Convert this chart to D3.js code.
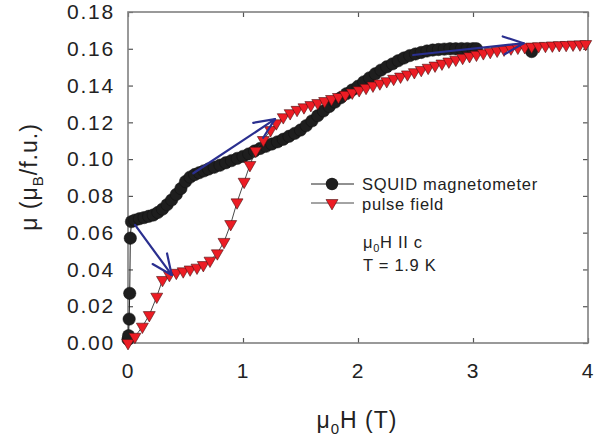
<!DOCTYPE html>
<html>
<head>
<meta charset="utf-8">
<script src="https://cdn.jsdelivr.net/npm/d3@7"></script>
<style>
  body { margin: 0; background: #fff; }
  svg { display: block; }
  text { font-family: "Liberation Sans", Arial, sans-serif; fill: #222; }
</style>
</head>
<body>
<div id="chart"></div>
<script>
// SQUID magnetometer data (field in T, moment in muB/f.u.)
var squidH = [0, 0.005, 0.01, 0.015, 0.02, 0.03, 0.06, 0.10, 0.14, 0.18, 0.22, 0.26, 0.30, 0.34, 0.38,
  0.42, 0.46, 0.50, 0.54, 0.58, 0.62, 0.66, 0.70, 0.75, 0.80, 0.85, 0.90, 0.95, 1.00, 1.05, 1.10,
  1.15, 1.20, 1.25, 1.30, 1.35, 1.40, 1.45, 1.50, 1.55, 1.60, 1.65, 1.70, 1.75, 1.80, 1.85, 1.90,
  1.95, 2.00, 2.05, 2.10, 2.15, 2.20, 2.25, 2.30, 2.35, 2.40, 2.45, 2.50, 2.55, 2.60, 2.65, 2.70,
  2.75, 2.80, 2.85, 2.90, 2.95, 3.00, 3.03, 3.51];
var squidM = [0.002, 0.004, 0.013, 0.027, 0.057, 0.066, 0.0668, 0.0676, 0.0682, 0.0689, 0.0696, 0.0710,
  0.0728, 0.0752, 0.0778, 0.0808, 0.0840, 0.0878, 0.0902, 0.0916, 0.0926, 0.0936, 0.0946, 0.0956,
  0.0967, 0.0980, 0.0992, 0.1004, 0.1015, 0.1028, 0.1044, 0.1058, 0.1070, 0.1082, 0.1094, 0.1108,
  0.1124, 0.1140, 0.1158, 0.1182, 0.1208, 0.1236, 0.1262, 0.1286, 0.1310, 0.1334, 0.1356, 0.1376,
  0.1396, 0.1420, 0.1442, 0.1464, 0.1484, 0.1502, 0.1518, 0.1535, 0.1550, 0.1563, 0.1572, 0.1580,
  0.1588, 0.1593, 0.1596, 0.1598, 0.1600, 0.1600, 0.1601, 0.1601, 0.1601, 0.1600, 0.1585];

// pulse field data
var pulseH = [0, 0.06, 0.125, 0.185, 0.25, 0.30, 0.36, 0.42, 0.48, 0.54, 0.60, 0.655, 0.713, 0.777,
  0.835, 0.893, 0.948, 1.01, 1.06, 1.11, 1.177, 1.24, 1.29, 1.35, 1.41, 1.47, 1.53, 1.59, 1.65,
  1.71, 1.77, 1.83, 1.89, 1.95, 2.01, 2.07, 2.13, 2.19, 2.25, 2.31, 2.37, 2.43, 2.49, 2.55, 2.61,
  2.67, 2.73, 2.79, 2.85, 2.91, 2.97, 3.03, 3.09, 3.15, 3.21, 3.27, 3.33, 3.39, 3.45, 3.51, 3.57,
  3.63, 3.69, 3.75, 3.81, 3.87, 3.93, 3.98];
var pulseM = [0.0, 0.0034, 0.0089, 0.0152, 0.0252, 0.0343, 0.0370, 0.0382, 0.0390, 0.0400, 0.0410,
  0.0424, 0.0448, 0.0488, 0.0550, 0.0647, 0.0765, 0.0877, 0.0968, 0.1046, 0.1104, 0.1158, 0.1195,
  0.1228, 0.1250, 0.1268, 0.1282, 0.1294, 0.1305, 0.1316, 0.1327, 0.1338, 0.1350, 0.1362, 0.1375,
  0.1388, 0.1400, 0.1412, 0.1424, 0.1437, 0.1449, 0.1461, 0.1473, 0.1485, 0.1497, 0.1509, 0.1520,
  0.1531, 0.1541, 0.1551, 0.1560, 0.1568, 0.1576, 0.1583, 0.1590, 0.1596, 0.1602, 0.1606, 0.1609,
  0.1612, 0.1614, 0.1616, 0.1618, 0.1620, 0.1621, 0.1623, 0.1624, 0.1626];

// blue arrows [h0, m0, h1, m1] (tail -> head)
var arrows = [
  [0.061, 0.0642, 0.38, 0.037],
  [0.568, 0.0923, 1.278, 0.1217],
  [2.48, 0.1566, 3.44, 0.1630]
];

var xTicks = [0, 1, 2, 3, 4];
var yTicks = [0, 0.02, 0.04, 0.06, 0.08, 0.10, 0.12, 0.14, 0.16, 0.18];

var W = 604, H = 437;
var X0 = 128, X1 = 588, Y0 = 343, Y1 = 12;
var BLUE = '#2a2f8f';

var svg = d3.select('#chart').append('svg')
  .attr('width', W)
  .attr('height', H);

var x = d3.scaleLinear().domain([0, 4]).range([X0, X1]);
var y = d3.scaleLinear().domain([0, 0.18]).range([Y0, Y1]);

// axes: ticks point inward, labels on left & bottom
var gx = svg.append('g')
  .attr('transform', 'translate(0,' + Y0 + ')')
  .call(d3.axisBottom(x).tickValues(xTicks).tickSize(-5).tickPadding(20)
    .tickFormat(d3.format('d')));
var gy = svg.append('g')
  .attr('transform', 'translate(' + X0 + ',0)')
  .call(d3.axisLeft(y).tickValues(yTicks).tickSize(-5).tickPadding(13)
    .tickFormat(d3.format('.2f')));
var gt = svg.append('g')
  .attr('transform', 'translate(0,' + Y1 + ')')
  .call(d3.axisTop(x).tickValues(xTicks).tickSize(-5).tickFormat(''));
var gr = svg.append('g')
  .attr('transform', 'translate(' + X1 + ',0)')
  .call(d3.axisRight(y).tickValues(yTicks).tickSize(-5).tickFormat(''));

[gx, gy, gt, gr].forEach(function(g){
  g.select('.domain').remove();
  g.selectAll('line').attr('stroke', '#555').attr('stroke-width', 1.2);
  g.selectAll('text')
    .style('font-family', '"Liberation Sans", Arial, sans-serif')
    .style('font-size', '21px')
    .style('letter-spacing', '1.8px')
    .attr('fill', '#222');
});

// frame
svg.append('rect')
  .attr('x', X0).attr('y', Y1)
  .attr('width', X1 - X0).attr('height', Y0 - Y1)
  .attr('fill', 'none')
  .attr('stroke', '#808080')
  .attr('stroke-width', 1.6);

var squid = squidH.map(function(h, i){ return {h: h, m: squidM[i]}; });
var pulse = pulseH.map(function(h, i){ return {h: h, m: pulseM[i]}; });

var line = d3.line()
  .x(function(d){ return x(d.h); })
  .y(function(d){ return y(d.m); });

// SQUID series
svg.append('path')
  .datum(squid.slice(0, squid.length - 1))
  .attr('d', line)
  .attr('fill', 'none')
  .attr('stroke', '#222')
  .attr('stroke-width', 1);

svg.append('g').selectAll('circle')
  .data(squid)
  .enter()
  .append('circle')
    .attr('cx', function(d){ return x(d.h); })
    .attr('cy', function(d){ return y(d.m); })
    .attr('r', 6.2)
    .attr('fill', '#1e1e1e')
    .attr('stroke', '#111')
    .attr('stroke-width', 0.5);

// pulse field series
svg.append('path')
  .datum(pulse)
  .attr('d', line)
  .attr('fill', 'none')
  .attr('stroke', '#333')
  .attr('stroke-width', 0.9);

var tri = d3.symbol().type(d3.symbolTriangle).size(62);

svg.append('g').selectAll('path')
  .data(pulse)
  .enter()
  .append('path')
    .attr('d', tri)
    .attr('transform', function(d){
      return 'translate(' + x(d.h) + ',' + y(d.m) + ') rotate(180)';
    })
    .attr('fill', '#ec1c24')
    .attr('stroke', '#4a1010')
    .attr('stroke-width', 0.6);

// arrows (open heads)
var arrowG = svg.append('g')
  .attr('stroke', BLUE)
  .attr('stroke-width', 2.2)
  .attr('fill', 'none')
  .attr('stroke-linecap', 'round');

arrows.forEach(function(a){
  var ax = x(a[0]), ay = y(a[1]), bx = x(a[2]), by = y(a[3]);
  var ang = Math.atan2(by - ay, bx - ax);
  var len = 22, spread = 0.42;
  arrowG.append('line')
    .attr('x1', ax).attr('y1', ay).attr('x2', bx).attr('y2', by);
  [-spread, spread].forEach(function(s){
    arrowG.append('line')
      .attr('x1', bx).attr('y1', by)
      .attr('x2', bx - len * Math.cos(ang + s))
      .attr('y2', by - len * Math.sin(ang + s));
  });
});

// legend
var legend = svg.append('g').attr('class', 'legend');
legend.append('line')
  .attr('x1', 311).attr('x2', 354).attr('y1', 184).attr('y2', 184)
  .attr('stroke', '#222').attr('stroke-width', 1);
legend.append('circle')
  .attr('cx', 332).attr('cy', 184).attr('r', 6.2).attr('fill', '#1e1e1e');
legend.append('line')
  .attr('x1', 311).attr('x2', 354).attr('y1', 203).attr('y2', 203)
  .attr('stroke', '#333').attr('stroke-width', 0.9);
legend.append('path')
  .attr('d', tri)
  .attr('transform', 'translate(332,203) rotate(180)')
  .attr('fill', '#ec1c24').attr('stroke', '#4a1010').attr('stroke-width', 0.6);

function label(xp, yp, str){
  return svg.append('text')
    .attr('x', xp).attr('y', yp)
    .style('font-size', '16.5px')
    .style('letter-spacing', '0.7px')
    .text(str);
}
label(362, 190, 'SQUID magnetometer');
label(362, 210, 'pulse field');

var t1 = label(363, 248, 'μ');
t1.append('tspan').attr('dy', 4).style('font-size', '11px').text('0');
t1.append('tspan').attr('dy', -4).text('H II c');
label(363, 271, 'T = 1.9 K');

// axis titles
var xt = svg.append('text')
  .attr('x', 357).attr('y', 428)
  .attr('text-anchor', 'middle')
  .style('font-size', '23px')
  .style('letter-spacing', '1px')
  .text('μ');
xt.append('tspan').attr('dy', 6).style('font-size', '15px').text('0');
xt.append('tspan').attr('dy', -6).text('H (T)');

var yt = svg.append('text')
  .attr('transform', 'translate(37,177) rotate(-90)')
  .attr('text-anchor', 'middle')
  .style('font-size', '23px')
  .style('letter-spacing', '1px')
  .text('μ (μ');
yt.append('tspan').attr('dy', 6).style('font-size', '15px').text('B');
yt.append('tspan').attr('dy', -6).text('/f.u.)');
</script>
</body>
</html>
